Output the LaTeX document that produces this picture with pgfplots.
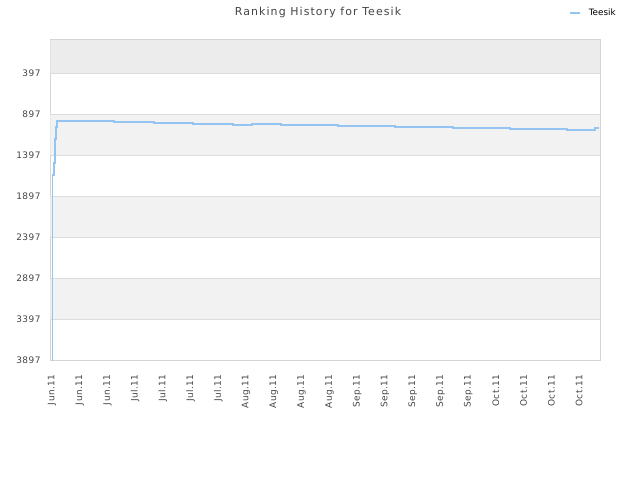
\documentclass[border=0pt]{standalone}
\usepackage{pgfplots}
\pgfplotsset{compat=1.18}
\usepackage{fontspec}
\setmainfont{DejaVu Sans}
\newfontfamily\tickfont[LetterSpace=5]{DejaVu Sans}
\newfontfamily\titlefont[LetterSpace=10]{DejaVu Sans}
\definecolor{band}{HTML}{F2F2F2}
\definecolor{bandtop}{HTML}{ECECEC}
\definecolor{gridc}{HTML}{DCDCDC}
\definecolor{axc}{HTML}{D5D5D5}
\definecolor{linec}{HTML}{94C4F2}
\definecolor{txt}{HTML}{444444}
\begin{document}
\begin{tikzpicture}
\useasboundingbox (0bp,0bp) rectangle (640bp,480bp);
\begin{axis}[
  at={(50.5bp,120bp)}, anchor=south west,
  scale only axis, width=549.5bp, height=320bp,
  xmin=-0.05, xmax=19.75, ymin=-9, ymax=3897, y dir=reverse,
  ytick={397,897,1397,1897,2397,2897,3397,3897},
  xtick={0,...,19},
  xticklabels={Jun.11,Jun.11,Jun.11,Jul.11,Jul.11,Jul.11,Jul.11,Aug.11,Aug.11,Aug.11,Aug.11,Sep.11,Sep.11,Sep.11,Sep.11,Sep.11,Oct.11,Oct.11,Oct.11,Oct.11},
  /pgf/number format/assume math mode=true,
  /pgf/number format/1000 sep={},
  major tick length=0pt,
  axis line style={axc, line width=1bp},
  tick label style={font=\tickfont\fontsize{9}{10}\selectfont, text=txt},
  xticklabel style={rotate=90, anchor=east},
  xticklabel shift=11bp,
  yticklabel shift=6.5bp,
  legend style={at={(0.9436,1.084)}, anchor=west, draw=none, fill=none,
    font=\fontsize{8.8}{10}\selectfont, inner sep=0pt},
  legend cell align=left,
  legend image code/.code={\draw[#1, line width=1.5bp] (0bp,0bp) -- (10bp,0bp); \path (16bp,0bp);},
]
\addplot[fill=bandtop, draw=none, forget plot] coordinates {(-0.05,-9) (19.75,-9) (19.75,397) (-0.05,397)} -- cycle;
\addplot[fill=band, draw=none, forget plot] coordinates {(-0.05,897) (19.75,897) (19.75,1397) (-0.05,1397)} -- cycle;
\addplot[fill=band, draw=none, forget plot] coordinates {(-0.05,1897) (19.75,1897) (19.75,2397) (-0.05,2397)} -- cycle;
\addplot[fill=band, draw=none, forget plot] coordinates {(-0.05,2897) (19.75,2897) (19.75,3397) (-0.05,3397)} -- cycle;
\addplot[gridc, line width=1bp, forget plot] coordinates {(-0.05,397) (19.75,397)};
\addplot[gridc, line width=1bp, forget plot] coordinates {(-0.05,897) (19.75,897)};
\addplot[gridc, line width=1bp, forget plot] coordinates {(-0.05,1397) (19.75,1397)};
\addplot[gridc, line width=1bp, forget plot] coordinates {(-0.05,1897) (19.75,1897)};
\addplot[gridc, line width=1bp, forget plot] coordinates {(-0.05,2397) (19.75,2397)};
\addplot[gridc, line width=1bp, forget plot] coordinates {(-0.05,2897) (19.75,2897)};
\addplot[gridc, line width=1bp, forget plot] coordinates {(-0.05,3397) (19.75,3397)};
\addplot[const plot, linec, line width=1.8bp] coordinates {
(0.025,4100) (0.025,1637) (0.072,1494) (0.108,1200) (0.144,1055) (0.198,978)
(2.234,990) (3.676,1002) (5.081,1014) (6.523,1026) (7.207,1014) (8.252,1026)
(10.306,1038) (12.360,1050) (14.450,1062) (16.505,1074) (18.559,1086)
(19.568,1068) (19.70,1068)
};
\addlegendentry{Teesik}
\end{axis}
\node[text=txt, font=\titlefont\fontsize{11}{13}\selectfont] at (318bp,467.5bp) {Ranking History for Teesik};
\end{tikzpicture}
\end{document}
